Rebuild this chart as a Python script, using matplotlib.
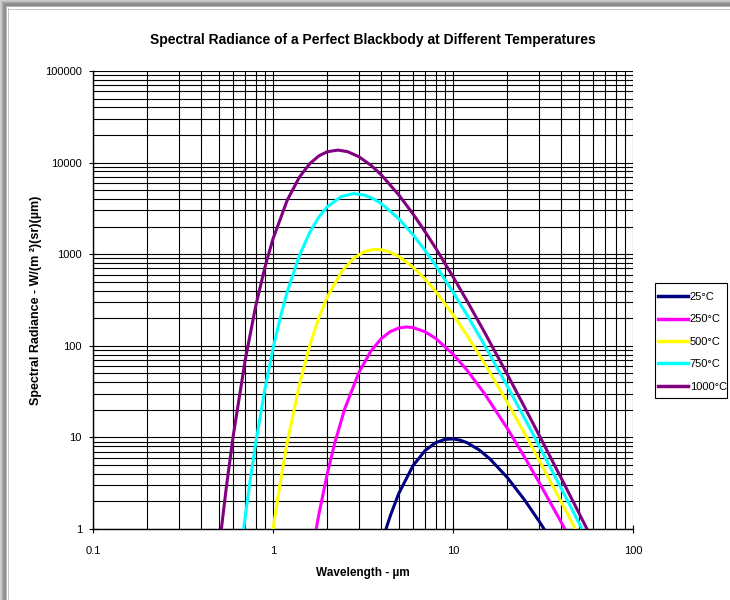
import numpy as np
import matplotlib
matplotlib.use("Agg")
import matplotlib.pyplot as plt
from matplotlib.ticker import LogLocator, FixedLocator, NullFormatter
from matplotlib.patches import Rectangle

plt.rcParams['font.family'] = ['Liberation Sans', 'DejaVu Sans']

# ---- data ----
wl_1000 = [0.5, 0.55, 0.6, 0.7, 0.8, 0.9, 1.0, 1.2, 1.4, 1.6, 1.8, 2.0, 2.3, 2.6, 3.0,
           3.5, 4.0, 5.0, 6.0, 7.0, 8.0, 10, 12, 15, 20, 25, 30, 40, 50, 60]
rad_1000 = [0.582, 2.82, 10.12, 69.0, 266.5, 710, 1472, 3891, 6914, 9733, 11854, 13133,
            13697, 13154, 11600, 9351, 7331, 4439, 2747, 1760, 1170, 568, 305.9, 139.5,
            49.0, 21.34, 10.71, 3.562, 1.503, 0.739]

wl_750 = [0.65, 0.7, 0.75, 0.8, 0.9, 1.0, 1.1, 1.2, 1.4, 1.6, 1.8, 2.0, 2.4, 2.8, 3.2,
          3.6, 4.0, 5.0, 6.0, 7.0, 8.0, 10, 12, 15, 20, 25, 30, 40, 50, 60]
rad_750 = [0.412, 1.335, 3.607, 8.434, 33.0, 93.0, 207.2, 389.5, 961, 1731, 2550, 3292,
           4278, 4589, 4436, 4043, 3563, 2435, 1626, 1097.6, 757, 386.6, 214.8, 100.9,
           36.48, 16.15, 8.194, 2.761, 1.173, 0.580]

wl_500 = [0.95, 1.0, 1.1, 1.2, 1.4, 1.6, 1.8, 2.0, 2.4, 2.8, 3.2, 3.6, 4.0, 4.5, 5.0,
          6.0, 7.0, 8.0, 10, 12, 15, 20, 25, 30, 40, 50]
rad_500 = [0.4785, 0.9856, 3.323, 8.81, 37.34, 100.9, 203.9, 338.6, 642, 899.9, 1061,
           1126.8, 1120, 1049, 944.5, 721.2, 533.7, 393.4, 219.3, 128.8, 63.8, 24.24,
           11.03, 5.70, 1.963, 0.845]

wl_250 = [1.6, 1.7, 1.8, 2.0, 2.2, 2.5, 3.0, 3.5, 4.0, 4.5, 5.0, 5.5, 6.0, 7.0, 8.0,
          10, 12, 15, 20, 25, 30, 40, 45]
rad_250 = [0.389, 0.790, 1.459, 3.968, 8.60, 20.34, 51.15, 87.7, 120.2, 143.4, 156.3,
           160.5, 158.1, 142.1, 120.7, 81.3, 53.8, 29.84, 12.59, 6.084, 3.265, 1.176, 0.766]

wl_25 = [4.0, 4.3, 4.5, 5.0, 6.0, 7.0, 8.0, 9.0, 10, 11, 12, 14, 16, 20, 25, 30, 35]
rad_25 = [0.670, 1.083, 1.421, 2.451, 4.923, 7.19, 8.743, 9.507, 9.630, 9.313, 8.737,
          7.282, 5.852, 3.661, 2.070, 1.2266, 0.7635]

labels = ['25°C', '250°C', '500°C', '750°C', '1000°C']
colors = ['#000080', '#FF00FF', '#FFFF00', '#00FFFF', '#800080']

x_ticks = [0.1, 1, 10, 100]
x_ticklabels = ['0.1', '1', '10', '100']
y_ticks = [1, 10, 100, 1000, 10000, 100000]
y_ticklabels = ['1', '10', '100', '1000', '10000', '100000']

# ---- figure ----
W, H = 730, 600
fig = plt.figure(figsize=(W / 100, H / 100), dpi=100)

# background frame (Excel-like shadow border)
bg = fig.add_axes([0, 0, 1, 1], zorder=-10)
img = np.ones((H, W, 3))
top = np.array([0.80, 0.74, 0.66, 0.58, 0.54, 0.56, 0.70, 1.0, 1.0, 0.78])
for i, v in enumerate(top):
    img[i, i if i < 8 else 8:, :] = v
left = np.array([0.82, 0.76, 0.68, 0.60, 0.56, 0.58, 0.72, 1.0, 0.78])
for j, v in enumerate(left):
    img[j if j < 9 else 9:, j, :] = np.minimum(img[j if j < 9 else 9:, j, :], v)
bg.imshow(img, aspect='auto', interpolation='nearest', extent=[0, W, H, 0])
bg.set_xlim(0, W)
bg.set_ylim(H, 0)
bg.axis('off')

ax = fig.add_axes([93 / W, 1 - 529 / H, (633 - 93) / W, (529 - 71) / H])
ax.set_xscale('log')
ax.set_yscale('log')

series = [(wl_25, rad_25), (wl_250, rad_250), (wl_500, rad_500),
          (wl_750, rad_750), (wl_1000, rad_1000)]
for (wl, rad), lab, col in zip(series, labels, colors):
    ax.plot(wl, rad, color=col, lw=2.2, label=lab, solid_joinstyle='round', zorder=3)

ax.set_xlim(0.1, 100)
ax.set_ylim(1, 100000)
ax.xaxis.set_major_locator(FixedLocator(x_ticks))
ax.set_xticklabels(x_ticklabels)
ax.yaxis.set_major_locator(FixedLocator(y_ticks))
ax.set_yticklabels(y_ticklabels)
ax.xaxis.set_minor_locator(LogLocator(base=10, subs=np.arange(2, 10), numticks=20))
ax.yaxis.set_minor_locator(LogLocator(base=10, subs=np.arange(2, 10), numticks=20))
ax.xaxis.set_minor_formatter(NullFormatter())
ax.yaxis.set_minor_formatter(NullFormatter())

ax.grid(which='both', color='black', lw=0.8, zorder=1)
ax.set_axisbelow(True)
ax.tick_params(which='major', direction='inout', length=6, width=0.8, labelsize=8)
ax.tick_params(axis='y', which='major', pad=5)
ax.tick_params(axis='x', which='major', pad=9)
ax.tick_params(which='minor', length=0)
for s in ['top', 'right']:
    ax.spines[s].set_visible(False)
for s in ['left', 'bottom']:
    ax.spines[s].set_linewidth(1.0)

fig.text(373 / W, 1 - 40 / H, 'Spectral Radiance of a Perfect Blackbody at Different Temperatures',
         ha='center', va='center', fontsize=10, fontweight='bold')
fig.text(363 / W, 1 - 573 / H, 'Wavelength - µm', ha='center', va='center',
         fontsize=8.5, fontweight='bold')
fig.text(36 / W, 1 - 300 / H, 'Spectral Radiance - W/(m ²)(sr)(µm)', ha='center',
         va='center', rotation=90, fontsize=9, fontweight='bold')

# legend frame drawn explicitly, entries placed inside
fig.patches.append(Rectangle((655 / W, 1 - 398 / H), (727 - 655) / W, (398 - 283) / H,
                             transform=fig.transFigure, facecolor='white',
                             edgecolor='black', lw=0.8, zorder=5))
leg = fig.legend(loc='upper left', bbox_to_anchor=(658 / W, 1 - 292 / H),
                 fontsize=8, frameon=False, handlelength=2.7, handletextpad=0.15,
                 labelspacing=1.12, borderpad=0, borderaxespad=0)
leg.set_zorder(6)
for line in leg.get_lines():
    line.set_linewidth(2.5)

fig.savefig('out.png', dpi=100)
